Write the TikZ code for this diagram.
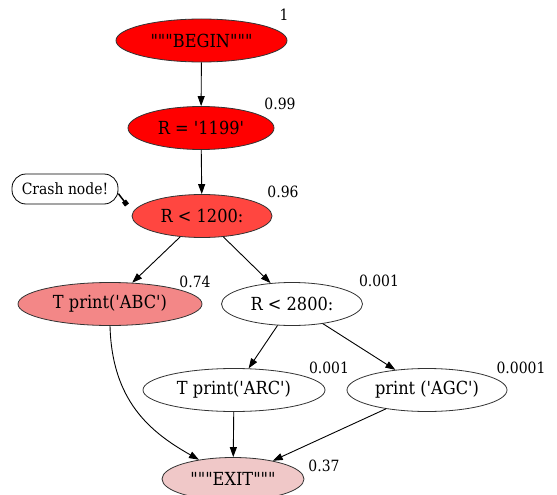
\documentclass[tikz,border=0pt]{standalone}
\usepackage{fontspec}
\newfontfamily\dotfont{DejaVu Serif}[FakeStretch=0.9]
\usetikzlibrary{shapes.geometric,arrows.meta}

\definecolor{hot}{HTML}{FF0000}
\definecolor{warm}{HTML}{FF4640}
\definecolor{mild}{HTML}{F38787}
\definecolor{cool}{HTML}{F0C8C8}

\begin{document}
\begin{tikzpicture}[x=1pt, y=-1pt, font=\dotfont,
    blk/.style={ellipse, draw=black!80, line width=0.8pt, inner sep=0pt, minimum height=43pt, font=\dotfont\fontsize{18}{20}\selectfont},
    wt/.style={font=\dotfont\fontsize{15.5}{17}\selectfont},
    arr/.style={-{Triangle[length=10pt,width=7pt]}, line width=0.9pt}]
    \useasboundingbox (0,0) rectangle (557,495);

    \foreach \pos/\name/\w/\col/\txt in {{(201.5,40.5)/begin/171/hot/"""BEGIN"""}, {(201,128)/rset/146/hot/R = '1199'},
        {(202,216)/rlow/140/warm/R < 1200:}, {(110,304)/abc/184/mild/T print('ABC')}, {(292,304)/rhigh/141/white/R < 2800:},
        {(234,390)/arc/182/white/T print('ARC')}, {(427,390)/agc/160/white/print ('AGC')}, {(233,479)/exit/142/cool/"""EXIT"""}}
        \node[blk, minimum width=\w pt, fill=\col] (\name) at \pos {\txt};

    \foreach \pos/\name/\txt in {{(284,15)/wbegin/1}, {(280,104)/wrset/0.99}, {(283,192)/wrlow/0.96}, {(195,282)/wabc/0.74},
        {(379,281)/wrhigh/0.001}, {(329,368)/warc/0.001}, {(521,368)/wagc/0.0001}, {(324,466)/wexit/0.37}}
        \node[wt] (\name) at \pos {\txt};

    \node[draw, line width=0.8pt, rounded corners=14pt, minimum width=106pt, minimum height=30pt, inner sep=0pt, wt] (crash) at (65,189) {Crash node!};
    \coordinate (crashtip) at (127,205);
    \draw[-{Square[length=5pt,width=5pt]}, line width=1.5pt] (crash.-5) -- (crashtip);

    \draw[arr] (begin) -- (rset);
    \draw[arr] (rset) -- (rlow);
    \draw[arr] (rlow) -- (abc);
    \draw[arr] (rlow) -- (rhigh);
    \draw[arr] (rhigh) -- (arc);
    \draw[arr] (rhigh) -- (agc);
    \draw[arr] (abc.south) .. controls +(2,75) and (150,432) .. (exit);
    \draw[arr] (arc) -- (exit);
    \draw[arr] (agc) -- (exit);
\end{tikzpicture}
\end{document}
